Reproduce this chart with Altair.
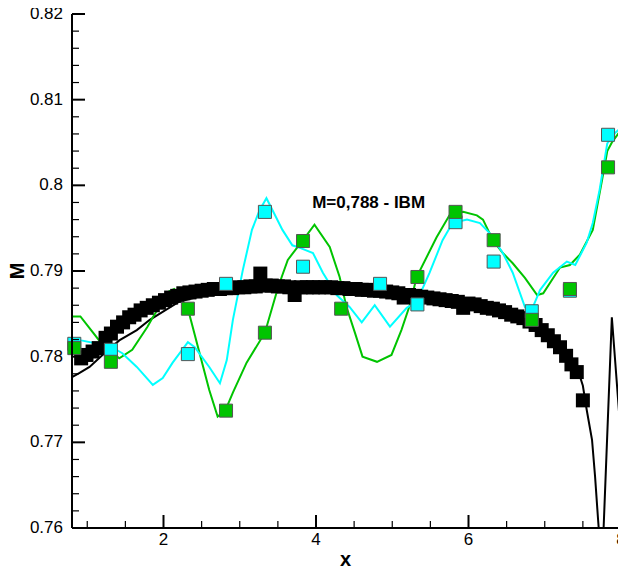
import altair as alt
import pandas as pd

FONT = "Liberation Sans"

# ---- black squares (reference) ----
bx = [0.92, 0.99, 1.07, 1.15, 1.24, 1.31, 1.39, 1.47, 1.55, 1.62, 1.70, 1.78, 1.86, 1.94, 2.02,
      2.10, 2.18, 2.26, 2.34, 2.42, 2.50, 2.58, 2.66, 2.74, 2.82, 2.90, 2.98, 3.06, 3.14, 3.21,
      3.27, 3.34, 3.42, 3.50, 3.58, 3.65, 3.72, 3.80, 3.88, 3.96, 4.04, 4.12, 4.20, 4.28, 4.36,
      4.44, 4.52, 4.60, 4.68, 4.76, 4.84, 4.92, 5.00, 5.08, 5.15, 5.22, 5.30, 5.38, 5.46, 5.54,
      5.62, 5.70, 5.78, 5.86, 5.93, 6.00, 6.08, 6.16, 6.24, 6.32, 6.40, 6.48, 6.56, 6.64, 6.72,
      6.80, 6.88, 6.96, 7.04, 7.12, 7.20, 7.28, 7.35, 7.42, 7.50]
by = [0.7798, 0.7802, 0.7806, 0.7810, 0.7822, 0.7827, 0.7835, 0.7840, 0.7846, 0.7849,
      0.7854, 0.7857, 0.7860, 0.7863, 0.7866, 0.7869, 0.7871, 0.7874, 0.7875, 0.7876,
      0.7877, 0.7878, 0.7879, 0.7879, 0.7880, 0.7880, 0.7881, 0.7881, 0.7882, 0.7882,
      0.7897, 0.7883, 0.7883, 0.7882, 0.7882, 0.7881, 0.7872, 0.7881, 0.7881, 0.7881,
      0.7881, 0.7881, 0.7881, 0.7880, 0.7880, 0.7879, 0.7879, 0.7878, 0.7878, 0.7877,
      0.7877, 0.7876, 0.7875, 0.7874, 0.7869, 0.7872, 0.7871, 0.7870, 0.7869, 0.7868,
      0.7867, 0.7866, 0.7865, 0.7864, 0.7857, 0.7862, 0.7861, 0.7859, 0.7857, 0.7856,
      0.7854, 0.7852, 0.7849, 0.7847, 0.7845, 0.7841, 0.7837, 0.7831, 0.7825, 0.7818,
      0.7811, 0.7801, 0.7791, 0.7782, 0.7749]

# ---- black line ----
blx = [0.80, 0.90, 1.03, 1.20, 1.42, 1.65, 1.82, 2.20, 2.60, 3.00, 3.50, 4.00, 4.50, 5.00,
       5.50, 6.00, 6.40, 6.80, 7.10, 7.30, 7.45, 7.50, 7.55, 7.62, 7.66, 7.70, 7.75, 7.88, 8.00]
bly = [0.7776, 0.7781, 0.7788, 0.7802, 0.7819, 0.7831, 0.7843, 0.7864, 0.7873, 0.7877,
       0.7879, 0.7879, 0.7877, 0.7873, 0.7868, 0.7861, 0.7853, 0.7841, 0.7819, 0.7800,
       0.7780, 0.7766, 0.7738, 0.7703, 0.7660, 0.7609, 0.7550, 0.7846, 0.7705]

# ---- green line ----
gx = [0.80, 0.91, 1.20, 1.42, 1.59, 1.79, 1.86, 2.07, 2.14, 2.32, 2.60, 2.71, 2.81, 2.91,
      3.09, 3.33, 3.48, 3.55, 3.63, 3.75, 3.82, 3.98, 4.18, 4.31, 4.40, 4.51, 4.61, 4.80,
      4.99, 5.12, 5.23, 5.32, 5.58, 5.75, 5.93, 6.11, 6.19, 6.32, 6.45, 6.58, 6.74, 6.90,
      6.98, 7.20, 7.33, 7.46, 7.63, 7.78, 7.82, 7.88, 8.01]
gy = [0.7847, 0.7847, 0.7814, 0.7798, 0.7808, 0.7835, 0.7846, 0.7876, 0.7879, 0.7856,
      0.7761, 0.7730, 0.7737, 0.7758, 0.7793, 0.7828, 0.7874, 0.7893, 0.7913, 0.7927,
      0.7935, 0.7954, 0.7928, 0.7893, 0.7858, 0.7828, 0.7800, 0.7794, 0.7802, 0.7831,
      0.7860, 0.7893, 0.7939, 0.7965, 0.7969, 0.7965, 0.7960, 0.7936, 0.7921, 0.7909,
      0.7892, 0.7872, 0.7874, 0.7904, 0.7907, 0.7919, 0.7948, 0.8020, 0.8040, 0.8050,
      0.8066]

# ---- cyan line ----
cx = [0.80, 0.92, 1.20, 1.32, 1.46, 1.65, 1.86, 1.99, 2.12, 2.32, 2.41, 2.60, 2.74, 2.83,
      2.91, 3.04, 3.16, 3.26, 3.35, 3.43, 3.56, 3.69, 3.79, 3.96, 4.09, 4.27, 4.44, 4.60,
      4.77, 4.97, 5.19, 5.32, 5.49, 5.66, 5.79, 5.98, 6.15, 6.28, 6.45, 6.58, 6.74, 6.83,
      6.94, 7.11, 7.29, 7.40, 7.55, 7.63, 7.72, 7.82, 7.92, 8.01]
cy = [0.7822, 0.7819, 0.7814, 0.7811, 0.7804, 0.7788, 0.7767, 0.7775, 0.7793, 0.7817,
      0.7811, 0.7788, 0.7769, 0.7796, 0.7843, 0.7901, 0.7948, 0.7971, 0.7985, 0.7971,
      0.7948, 0.7930, 0.7927, 0.7921, 0.7898, 0.7872, 0.7858, 0.7840, 0.7860, 0.7835,
      0.7857, 0.7864, 0.7898, 0.7936, 0.7956, 0.7960, 0.7956, 0.7944, 0.7921, 0.7898,
      0.7858, 0.7855, 0.7878, 0.7898, 0.7911, 0.7907, 0.7933, 0.7956, 0.7995, 0.8049,
      0.8061, 0.8068]

# ---- coloured squares ----
gsx = [0.83, 1.31, 2.32, 2.82, 3.33, 3.83, 4.33, 5.33, 5.83, 6.33, 6.83, 7.33, 7.83]
gsy = [0.7810, 0.7794, 0.7856, 0.7737, 0.7828, 0.7935, 0.7856, 0.7893, 0.7969, 0.7936,
       0.7843, 0.7879, 0.8021]
csx = [0.83, 1.31, 2.32, 2.82, 3.33, 3.83, 4.84, 5.33, 5.83, 6.33, 6.83, 7.33, 7.83]
csy = [0.7815, 0.7808, 0.7803, 0.7885, 0.7969, 0.7905, 0.7885, 0.7861, 0.7957, 0.7911,
       0.7853, 0.7877, 0.8059]

# ---- annotation ----
ann_x = [4.69]
ann_y = [0.7979]
ann_text = ["M=0,788 - IBM"]

# ---- ticks and tick labels ----
x_major = [2, 4, 6, 8]
x_labels = ["2", "4", "6", "8"]
x_minor = [1.0, 1.5, 2.5, 3.0, 3.5, 4.5, 5.0, 5.5, 6.5, 7.0, 7.5]
y_major = [0.76, 0.77, 0.78, 0.79, 0.80, 0.81, 0.82]
y_labels = ["0.76", "0.77", "0.78", "0.79", "0.8", "0.81", "0.82"]
y_minor = [0.762, 0.764, 0.766, 0.768, 0.772, 0.774, 0.776, 0.778,
           0.782, 0.784, 0.786, 0.788, 0.792, 0.794, 0.796, 0.798,
           0.802, 0.804, 0.806, 0.808, 0.812, 0.814, 0.816, 0.818]
x_title = ["x"]
y_title = ["M"]

W, H = 549, 514
MAJ, MIN = 13, 7   # inward tick lengths (px)

xs = alt.Scale(domain=[0.8, 8], nice=False, zero=False)
ys = alt.Scale(domain=[0.76, 0.82], nice=False, zero=False)

df_bs = pd.DataFrame({"x": bx, "M": by})
df_bl = pd.DataFrame({"x": blx, "M": bly})
df_g = pd.DataFrame({"x": gx, "M": gy})
df_c = pd.DataFrame({"x": cx, "M": cy})
df_gs = pd.DataFrame({"x": gsx, "M": gsy})
df_cs = pd.DataFrame({"x": csx, "M": csy})
df_ann = pd.DataFrame({"x": ann_x, "M": ann_y, "t": ann_text})
df_xmaj = pd.DataFrame({"x": x_major, "t": x_labels})
df_xmin = pd.DataFrame({"x": x_minor})
df_ymaj = pd.DataFrame({"M": y_major, "t": y_labels})
df_ymin = pd.DataFrame({"M": y_minor})
df_xt = pd.DataFrame({"t": x_title})
df_yt = pd.DataFrame({"t": y_title})
df_one = pd.DataFrame({"d": [0]})


def X_():
    return alt.X("x:Q", scale=xs, axis=None)


def Y_():
    return alt.Y("M:Q", scale=ys, axis=None)


black_line = alt.Chart(df_bl).mark_line(color="black", strokeWidth=2, clip=True).encode(
    x=X_(), y=Y_())
green_line = alt.Chart(df_g).mark_line(color="#00c400", strokeWidth=2, clip=True).encode(
    x=X_(), y=Y_())
cyan_line = alt.Chart(df_c).mark_line(color="#00ffff", strokeWidth=2, clip=True).encode(
    x=X_(), y=Y_())
black_sq = alt.Chart(df_bs).mark_square(size=196, filled=True, color="black", opacity=1).encode(
    x=X_(), y=Y_())
cyan_sq = alt.Chart(df_cs).mark_square(size=170, filled=True, fill="#00ffff", stroke="#555555",
                                       strokeWidth=1, opacity=1).encode(x=X_(), y=Y_())
green_sq = alt.Chart(df_gs).mark_square(size=170, filled=True, fill="#00c400", stroke="#555555",
                                        strokeWidth=1, opacity=1).encode(x=X_(), y=Y_())
label = alt.Chart(df_ann).mark_text(font=FONT, fontSize=17, fontWeight="bold", color="black",
                                    align="center", baseline="middle").encode(
    x=X_(), y=Y_(), text="t:N")

# frame lines (left and bottom)
y_domain = alt.Chart(df_one).mark_rule(color="black", strokeWidth=2).encode(
    x=alt.value(0), y=alt.value(0), y2=alt.value(H))
x_domain = alt.Chart(df_one).mark_rule(color="black", strokeWidth=2).encode(
    y=alt.value(H), x=alt.value(0), x2=alt.value(W))

# inward tick marks along the frame
xt_major = alt.Chart(df_xmaj).mark_rule(color="black", strokeWidth=2).encode(
    x=X_(), y=alt.value(H), y2=alt.value(H - MAJ))
xt_minor = alt.Chart(df_xmin).mark_rule(color="black", strokeWidth=1.2).encode(
    x=X_(), y=alt.value(H), y2=alt.value(H - MIN))
yt_major = alt.Chart(df_ymaj).mark_rule(color="black", strokeWidth=2).encode(
    y=Y_(), x=alt.value(0), x2=alt.value(MAJ))
yt_minor = alt.Chart(df_ymin).mark_rule(color="black", strokeWidth=1.2).encode(
    y=Y_(), x=alt.value(0), x2=alt.value(MIN))

# tick labels and titles
xl = alt.Chart(df_xmaj).mark_text(font=FONT, fontSize=17, color="black", align="center",
                                  baseline="top").encode(
    x=X_(), y=alt.value(H + 4), text="t:N")
yl = alt.Chart(df_ymaj).mark_text(font=FONT, fontSize=17, color="black", align="right",
                                  baseline="middle").encode(
    y=Y_(), x=alt.value(-9), text="t:N")
xtitle = alt.Chart(df_xt).mark_text(font=FONT, fontSize=20, fontWeight="bold", color="black",
                                    align="center", baseline="middle").encode(
    x=alt.value(W / 2 - 1), y=alt.value(H + 32), text="t:N")
ytitle = alt.Chart(df_yt).mark_text(font=FONT, fontSize=20, fontWeight="bold", color="black",
                                    align="center", baseline="middle", angle=270).encode(
    x=alt.value(-54), y=alt.value(H / 2), text="t:N")

chart = alt.layer(
    black_line, green_line, cyan_line, black_sq, cyan_sq, green_sq, label,
    xl, yl, xtitle, ytitle,
    y_domain, x_domain, xt_major, xt_minor, yt_major, yt_minor
).properties(
    width=W, height=H,
    padding={"left": 64, "top": 6, "right": -3, "bottom": 40},
    autosize=alt.AutoSizeParams(type="none"),
).configure_view(stroke=None)

chart.save("out.html", embed_options={"renderer": "svg", "actions": False})
